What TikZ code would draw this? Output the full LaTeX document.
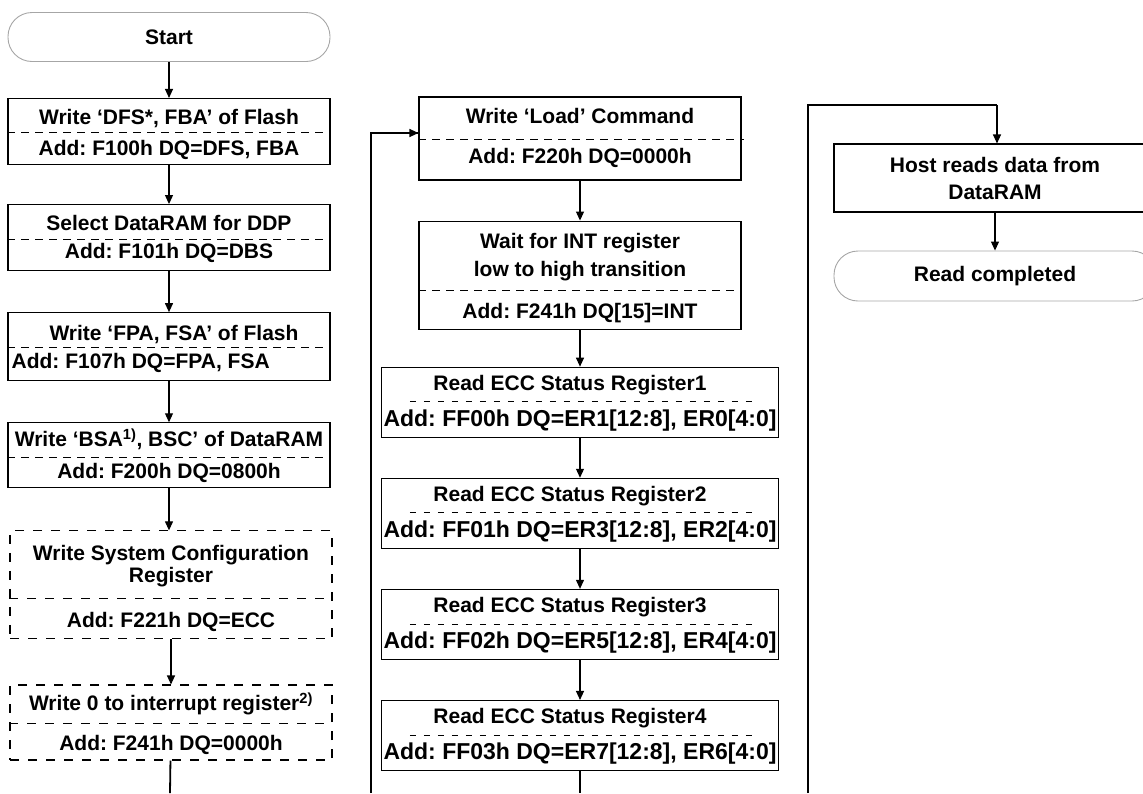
\documentclass[tikz,border=0pt]{standalone}
\usepackage{fontspec}
\setmainfont{Liberation Sans}
\usetikzlibrary{positioning,calc,arrows.meta}
\frenchspacing

\tikzset{
  stepbox/.style={draw, line width=1.1pt, minimum width=322pt, inner sep=0pt},
  optbox/.style={stepbox, dash pattern=on 9pt off 9pt},
  eccbox/.style={stepbox, minimum width=397pt, minimum height=70pt},
  endpoint/.style={draw=black!35, line width=0.9pt, rounded corners=24pt, minimum width=322pt,
    minimum height=49pt, inner sep=0pt, font=\bfseries\fontsize{21}{25}\selectfont},
  txt/.style={inner sep=0pt, anchor=base, font=\bfseries\fontsize{21}{25}\selectfont},
  wide/.style={txt, font=\bfseries\fontsize{23}{25}\selectfont},
  split/.style={line width=0.9pt, dash pattern=on 8pt off 6pt},
  thinsplit/.style={line width=0.6pt, dash pattern=on 6pt off 8pt},
  flow/.style={-{Triangle[length=9pt,width=8pt]}, line width=1.1pt},
  link/.style={line width=1.8pt},
}

\begin{document}
\begin{tikzpicture}[x=1pt, y=-1pt, node distance=38pt]
  \useasboundingbox (0,0) rectangle (1143,793);
  \clip (0,0) rectangle (1143,793);

  % first column
  \node[endpoint] (start) at (169,37) {Start};
  \node[stepbox, minimum height=66pt] (dfs) [below=36pt of start] {};
  \node[stepbox, minimum height=66pt] (ddp) [below=39pt of dfs] {};
  \node[stepbox, minimum height=68pt] (fpa) [below=41pt of ddp] {};
  \node[stepbox, minimum height=65pt] (bsa) [below=41pt of fpa] {};
  \node[optbox, minimum height=108pt] (syscfg) [below=42pt of bsa, xshift=2pt] {};
  \node[optbox, minimum height=75pt] (intr) [below=45pt of syscfg] {};

  \node[txt] at ([yshift=-26.5pt]dfs.north) {Write ‘DFS*, FBA’ of Flash};
  \node[txt] at ([yshift=-58pt]dfs.north) {Add: F100h DQ=DFS, FBA};
  \draw[split] ([yshift=-34.5pt]dfs.north west) -- ([yshift=-34.5pt]dfs.north east);

  \node[txt] at ([yshift=-26.5pt]ddp.north) {Select DataRAM for DDP};
  \node[txt] at ([yshift=-54.5pt]ddp.north) {Add: F101h DQ=DBS};
  \draw[split] ([yshift=-35pt]ddp.north west) -- ([yshift=-35pt]ddp.north east);

  \node[txt] at ([xshift=5pt, yshift=-28.5pt]fpa.north) {Write ‘FPA, FSA’ of Flash};
  \node[txt, anchor=base west] at ([xshift=4pt, yshift=-56.5pt]fpa.north west) {Add: F107h DQ=FPA, FSA};
  \draw[split] ([yshift=-35pt]fpa.north west) -- ([yshift=-35pt]fpa.north east);

  \node[txt] at ([yshift=-24.5pt]bsa.north) {Write ‘BSA\textsuperscript{1)}, BSC’ of DataRAM};
  \node[txt] at ([yshift=-56.5pt]bsa.north) {Add: F200h DQ=0800h};
  \draw[split] ([yshift=-35pt]bsa.north west) -- ([yshift=-35pt]bsa.north east);

  \node[txt] at ([yshift=-30.5pt]syscfg.north) {Write System Configuration};
  \node[txt] at ([yshift=-52.5pt]syscfg.north) {Register};
  \node[txt] at ([yshift=-97.5pt]syscfg.north) {Add: F221h DQ=ECC};
  \draw[optbox, draw] ([yshift=-68pt]syscfg.north west) -- ([yshift=-68pt]syscfg.north east);

  \node[txt] at ([yshift=-26.5pt]intr.north) {Write 0 to interrupt register\textsuperscript{2)}};
  \node[txt] at ([yshift=-66.5pt]intr.north) {Add: F241h DQ=0000h};
  \draw[optbox, draw] ([yshift=-39pt]intr.north west) -- ([yshift=-39pt]intr.north east);

  \coordinate (out1) at (170,793);

  % second column
  \node[stepbox, minimum height=83pt] (load) at (580,138.5) {};
  \node[stepbox, minimum height=108pt] (wait) [below=40pt of load] {};
  \node[eccbox] (ecc1) [below=37pt of wait] {};
  \node[eccbox] (ecc2) [below=40pt of ecc1] {};
  \node[eccbox] (ecc3) [below=40pt of ecc2] {};
  \node[eccbox] (ecc4) [below=40pt of ecc3] {};

  \node[txt] at ([yshift=-27.5pt]load.north) {Write ‘Load’ Command};
  \node[txt] at ([yshift=-67.5pt]load.north) {Add: F220h DQ=0000h};
  \draw[split] ([yshift=-43pt]load.north west) -- ([xshift=2pt, yshift=-43pt]load.north east);

  \node[txt] at ([yshift=-27.5pt]wait.north) {Wait for INT register};
  \node[txt] at ([yshift=-55.5pt]wait.north) {low to high transition};
  \node[txt] at ([yshift=-97.5pt]wait.north) {Add: F241h DQ[15]=INT};
  \draw[split] ([yshift=-70pt]wait.north west) -- ([yshift=-70pt]wait.north east);

  \node[txt] at ([xshift=-10pt, yshift=-24pt]ecc1.north) {Read ECC Status Register1};
  \node[wide] at ([yshift=-60pt]ecc1.north) {Add: FF00h DQ=ER1[12:8], ER0[4:0]};
  \draw[thinsplit] ([xshift=29pt, yshift=-35pt]ecc1.north west) -- ([xshift=-22pt, yshift=-35pt]ecc1.north east);

  \node[txt] at ([xshift=-10pt, yshift=-24pt]ecc2.north) {Read ECC Status Register2};
  \node[wide] at ([yshift=-60pt]ecc2.north) {Add: FF01h DQ=ER3[12:8], ER2[4:0]};
  \draw[thinsplit] ([xshift=29pt, yshift=-35pt]ecc2.north west) -- ([xshift=-22pt, yshift=-35pt]ecc2.north east);

  \node[txt] at ([xshift=-10pt, yshift=-24pt]ecc3.north) {Read ECC Status Register3};
  \node[wide] at ([yshift=-60pt]ecc3.north) {Add: FF02h DQ=ER5[12:8], ER4[4:0]};
  \draw[thinsplit] ([xshift=29pt, yshift=-35pt]ecc3.north west) -- ([xshift=-22pt, yshift=-35pt]ecc3.north east);

  \node[txt] at ([xshift=-10pt, yshift=-24pt]ecc4.north) {Read ECC Status Register4};
  \node[wide] at ([yshift=-60pt]ecc4.north) {Add: FF03h DQ=ER7[12:8], ER6[4:0]};
  \draw[thinsplit] ([xshift=29pt, yshift=-35pt]ecc4.north west) -- ([xshift=-22pt, yshift=-35pt]ecc4.north east);

  \coordinate (in2) at (371,793);
  \coordinate (out2) at (ecc4.south |- 0,793);

  % third column
  \node[stepbox, minimum height=68pt, align=center, font=\bfseries\fontsize{21}{27}\selectfont]
    (host) at (995,178) {Host reads data from\\DataRAM};
  \node[endpoint, minimum height=50pt] (done) [below=38pt of host] {Read completed};

  \coordinate (in3) at (808,793);
  \coordinate (top3) at (997,105);

  \path[flow]
    (start) edge (dfs)
    (dfs) edge (ddp)
    (ddp) edge (fpa)
    (fpa) edge (bsa)
    (bsa.south) edge (bsa.south |- syscfg.north)
    (syscfg) edge (intr)
    (load) edge (wait)
    (wait) edge (ecc1)
    (ecc1) edge (ecc2)
    (ecc2) edge (ecc3)
    (ecc3) edge (ecc4)
    (host) edge (done);

  \draw[link] (intr) -- (out1);
  \draw[link] (ecc4) -- (out2);
  \draw[link] (in2) |- ([yshift=5.5pt]load.west);
  \draw[flow] ([xshift=-2pt, yshift=5.5pt]load.west) -- ([yshift=5.5pt]load.west);
  \draw[link] (in3) |- (top3);
  \draw[flow] (top3) -- (top3 |- host.north);
\end{tikzpicture}
\end{document}
